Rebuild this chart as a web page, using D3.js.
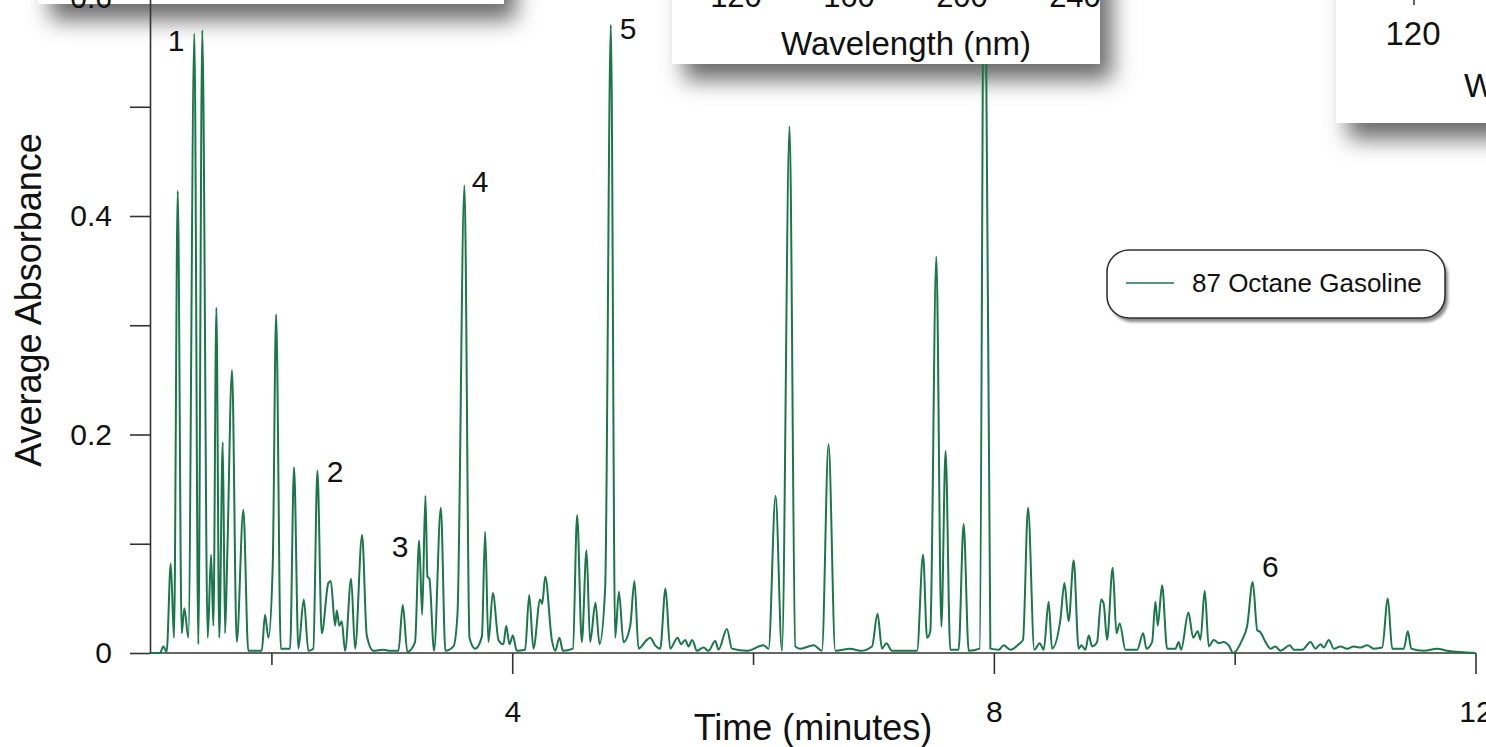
<!DOCTYPE html>
<html>
<head>
<meta charset="utf-8">
<script src="https://cdn.jsdelivr.net/npm/d3@7"></script>
<style>
body { margin: 0; background: #fff; }
svg { display: block; font-family: "Liberation Sans", Arial, sans-serif; }
</style>
</head>
<body>
<svg></svg>
<script>
var WIDTH = 1486;
var HEIGHT = 747;

// chromatogram: time (min) and average absorbance
var timeMin = [
	1.000, 1.075, 1.102, 1.130, 1.164, 1.191, 1.222, 1.255, 1.277, 1.310,
	1.360, 1.393, 1.426, 1.471, 1.499, 1.518, 1.543, 1.567, 1.596, 1.615,
	1.634, 1.673, 1.712, 1.767, 1.808, 1.920, 1.947, 1.975, 2.011, 2.039,
	2.078, 2.155, 2.188, 2.224, 2.269, 2.307, 2.348, 2.382, 2.418, 2.473,
	2.493, 2.529, 2.543, 2.564, 2.584, 2.612, 2.662, 2.695, 2.753, 2.792,
	2.847, 2.930, 2.986, 3.055, 3.091, 3.129, 3.193, 3.227, 3.252, 3.279,
	3.296, 3.312, 3.351, 3.407, 3.445, 3.512, 3.545, 3.603, 3.645, 3.692,
	3.748, 3.775, 3.802, 3.839, 3.886, 3.927, 3.950, 3.977, 4.005, 4.038,
	4.107, 4.141, 4.176, 4.232, 4.249, 4.274, 4.329, 4.357, 4.392, 4.421,
	4.504, 4.539, 4.578, 4.617, 4.647, 4.691, 4.725, 4.772, 4.819, 4.855,
	4.886, 4.924, 4.980, 5.015, 5.049, 5.118, 5.146, 5.187, 5.229, 5.273,
	5.312, 5.373, 5.403, 5.437, 5.464, 5.495, 5.534, 5.589, 5.630, 5.686,
	5.713, 5.783, 5.825, 5.949, 6.087, 6.129, 6.187, 6.240, 6.303, 6.351,
	6.392, 6.503, 6.572, 6.627, 6.683, 6.808, 6.891, 6.988, 7.034, 7.071,
	7.107, 7.154, 7.362, 7.412, 7.445, 7.472, 7.522, 7.564, 7.599, 7.638,
	7.707, 7.749, 7.791, 7.882, 7.923, 7.971, 8.040, 8.081, 8.137, 8.206,
	8.242, 8.284, 8.336, 8.380, 8.414, 8.455, 8.483, 8.552, 8.586, 8.621,
	8.663, 8.704, 8.727, 8.760, 8.788, 8.816, 8.857, 8.891, 8.912, 8.940,
	8.987, 9.018, 9.045, 9.093, 9.190, 9.240, 9.267, 9.314, 9.342, 9.361,
	9.397, 9.439, 9.508, 9.535, 9.555, 9.616, 9.655, 9.693, 9.716, 9.751,
	9.785, 9.826, 9.868, 9.909, 9.951, 9.987, 10.062, 10.104, 10.150, 10.187,
	10.214, 10.256, 10.297, 10.339, 10.380, 10.458, 10.491, 10.561, 10.630, 10.671,
	10.713, 10.740, 10.782, 10.823, 10.879, 10.934, 10.989, 11.045, 11.101, 11.155,
	11.225, 11.272, 11.308, 11.405, 11.438, 11.466, 11.571, 11.682, 11.765, 12.000
];
var absorbance = [
	0.000, 0.000, 0.006, 0.001, 0.082, 0.014, 0.423, 0.018, 0.041, 0.014,
	0.567, 0.008, 0.570, 0.014, 0.090, 0.025, 0.316, 0.014, 0.193, 0.018,
	0.092, 0.259, 0.010, 0.131, 0.002, 0.002, 0.035, 0.014, 0.080, 0.310,
	0.004, 0.004, 0.170, 0.004, 0.049, 0.002, 0.004, 0.167, 0.018, 0.064,
	0.066, 0.025, 0.039, 0.025, 0.029, 0.002, 0.068, 0.004, 0.108, 0.016,
	0.002, 0.003, 0.002, 0.002, 0.044, 0.001, 0.010, 0.103, 0.035, 0.144,
	0.070, 0.068, 0.002, 0.133, 0.002, 0.006, 0.035, 0.428, 0.014, 0.004,
	0.015, 0.111, 0.010, 0.055, 0.012, 0.008, 0.025, 0.008, 0.016, 0.002,
	0.003, 0.053, 0.004, 0.049, 0.045, 0.070, 0.012, 0.002, 0.014, 0.002,
	0.004, 0.126, 0.010, 0.094, 0.010, 0.046, 0.008, 0.060, 0.575, 0.014,
	0.056, 0.010, 0.025, 0.066, 0.004, 0.012, 0.014, 0.007, 0.004, 0.059,
	0.004, 0.014, 0.008, 0.012, 0.006, 0.012, 0.002, 0.005, 0.002, 0.011,
	0.003, 0.022, 0.004, 0.002, 0.007, 0.004, 0.144, 0.002, 0.482, 0.006,
	0.004, 0.007, 0.002, 0.191, 0.002, 0.004, 0.002, 0.006, 0.036, 0.004,
	0.009, 0.002, 0.002, 0.090, 0.014, 0.020, 0.363, 0.024, 0.185, 0.003,
	0.003, 0.118, 0.002, 0.004, 0.750, 0.004, 0.003, 0.007, 0.003, 0.008,
	0.012, 0.133, 0.003, 0.009, 0.003, 0.047, 0.004, 0.030, 0.064, 0.029,
	0.085, 0.004, 0.007, 0.003, 0.016, 0.006, 0.010, 0.049, 0.045, 0.012,
	0.078, 0.018, 0.027, 0.003, 0.003, 0.018, 0.004, 0.010, 0.047, 0.025,
	0.062, 0.004, 0.004, 0.010, 0.003, 0.037, 0.014, 0.020, 0.012, 0.057,
	0.006, 0.012, 0.009, 0.010, 0.007, 0.000, 0.012, 0.025, 0.065, 0.021,
	0.019, 0.010, 0.004, 0.006, 0.002, 0.007, 0.003, 0.003, 0.010, 0.004,
	0.008, 0.005, 0.012, 0.004, 0.006, 0.004, 0.006, 0.005, 0.007, 0.004,
	0.005, 0.050, 0.004, 0.004, 0.020, 0.004, 0.002, 0.004, 0.002, 0.000
];

var xTicksMajor = [4, 8, 12];
var xTicksMinor = [2, 6, 10];
var yTicks = [0, 0.1, 0.2, 0.3, 0.4, 0.5, 0.6];

// numbered peaks (label text, anchor time, anchor absorbance)
var peakNames = ['1', '2', '3', '4', '5', '6'];
var peakTimes = [1.208, 2.529, 3.069, 3.734, 4.963, 10.297];
var peakAbs = [0.561, 0.166, 0.098, 0.432, 0.572, 0.079];

var seriesName = '87 Octane Gasoline';

// bits of the overlapping wavelength panels
var insetTicks = ['120', '160', '200', '240'];
var insetTitle = 'Wavelength (nm)';

var LINE_COLOR = '#1a764b';
var AXIS_COLOR = '#333';

var svg = d3.select('svg')
	.attr('width', WIDTH)
	.attr('height', HEIGHT);

var x = d3.scaleLinear().domain([1, 12]).range([151, 1475.5]);
var y = d3.scaleLinear().domain([0, 0.6]).range([653, -2.5]);

var defs = svg.append('defs');
defs.append('filter')
	.attr('id', 'softShadow')
	.attr('x', '-50%').attr('y', '-50%')
	.attr('width', '200%').attr('height', '200%')
	.append('feGaussianBlur').attr('stdDeviation', 11);
defs.append('filter')
	.attr('id', 'legendShadow')
	.attr('x', '-10%').attr('y', '-30%')
	.attr('width', '120%').attr('height', '160%')
	.append('feGaussianBlur').attr('stdDeviation', 1.5);

// the panels laid over the top of the chart: [left, right, bottom]
var panels = [[38, 504, 4], [672, 1100, 64], [1336, 1560, 123]];

svg.append('g').selectAll('rect')
	.data(panels)
	.enter().append('rect')
	.attr('x', function(d){ return d[0] + 12; })
	.attr('y', -120 + 16)
	.attr('width', function(d){ return d[1] - d[0]; })
	.attr('height', function(d){ return d[2] + 120; })
	.attr('fill', '#6a6a6a')
	.attr('filter', 'url(#softShadow)');

// first panel sits under the plot
svg.append('rect')
	.attr('x', panels[0][0]).attr('y', -120)
	.attr('width', panels[0][1] - panels[0][0])
	.attr('height', panels[0][2] + 120)
	.attr('fill', '#fff');

// axes
var yAxis = d3.axisLeft(y)
	.tickValues(yTicks)
	.tickSize(20)
	.tickSizeOuter(0)
	.tickPadding(18)
	.tickFormat(function(d){
		var k = Math.round(d * 10);
		if (k % 2 !== 0) return '';
		return k === 0 ? '0' : d3.format('.1f')(d);
	});
var gy = svg.append('g')
	.attr('transform', 'translate(150,0)')
	.call(yAxis);

var xAxis = d3.axisBottom(x)
	.tickValues(xTicksMajor)
	.tickSize(21)
	.tickSizeOuter(0)
	.tickPadding(27)
	.tickFormat(d3.format('d'));
var gx = svg.append('g')
	.attr('transform', 'translate(0,653)')
	.call(xAxis);
gx.select('.domain').attr('d', 'M150,0H' + x(12));

var xMinor = d3.axisBottom(x)
	.tickValues(xTicksMinor)
	.tickSize(12)
	.tickFormat('');
var gxm = svg.append('g')
	.attr('transform', 'translate(0,653)')
	.call(xMinor);
gxm.select('.domain').remove();

svg.selectAll('.domain, .tick line')
	.attr('stroke', AXIS_COLOR)
	.attr('stroke-width', 1.6);
svg.selectAll('.tick text')
	.attr('font-size', 30)
	.attr('fill', '#111')
	.attr('font-family', '"Liberation Sans", Arial, sans-serif');

svg.append('text')
	.attr('transform', 'translate(41,300) rotate(-90)')
	.attr('text-anchor', 'middle')
	.attr('font-size', 36)
	.attr('fill', '#111')
	.text('Average Absorbance');

svg.append('text')
	.attr('x', 813).attr('y', 740)
	.attr('text-anchor', 'middle')
	.attr('font-size', 36)
	.attr('fill', '#111')
	.text('Time (minutes)');

// the trace
var points = timeMin.map(function(t, i){ return [t, absorbance[i]]; });
var line = d3.line()
	.x(function(d){ return x(d[0]); })
	.y(function(d){ return y(d[1]); })
	.curve(d3.curveMonotoneX);

svg.append('path')
	.datum(points)
	.attr('d', line)
	.attr('fill', 'none')
	.attr('stroke', LINE_COLOR)
	.attr('stroke-width', 2)
	.attr('stroke-linejoin', 'round');

// peak numbers
svg.append('g').selectAll('text')
	.data(peakNames)
	.enter().append('text')
	.attr('x', function(d, i){ return x(peakTimes[i]); })
	.attr('y', function(d, i){ return y(peakAbs[i]); })
	.attr('dy', '0.36em')
	.attr('text-anchor', 'middle')
	.attr('font-size', 30)
	.attr('fill', '#111')
	.text(function(d){ return d; });

// legend
var legend = svg.append('g').attr('transform', 'translate(1107,250)');
legend.append('rect')
	.attr('x', 3).attr('y', 4)
	.attr('width', 338).attr('height', 68)
	.attr('rx', 22)
	.attr('fill', '#888')
	.attr('filter', 'url(#legendShadow)');
legend.append('rect')
	.attr('width', 338).attr('height', 68)
	.attr('rx', 22)
	.attr('fill', '#fff')
	.attr('stroke', '#333')
	.attr('stroke-width', 1.6);
legend.append('line')
	.attr('x1', 19).attr('x2', 67)
	.attr('y1', 33).attr('y2', 33)
	.attr('stroke', LINE_COLOR)
	.attr('stroke-width', 1.6);
legend.append('text')
	.attr('x', 85).attr('y', 42)
	.attr('font-size', 26)
	.attr('fill', '#111')
	.text(seriesName);

// the other two panels cover the top of the plot
svg.append('g').selectAll('rect')
	.data(panels.slice(1))
	.enter().append('rect')
	.attr('x', function(d){ return d[0]; })
	.attr('y', -120)
	.attr('width', function(d){ return d[1] - d[0]; })
	.attr('height', function(d){ return d[2] + 120; })
	.attr('fill', '#fff');

var waveScale = d3.scaleLinear().domain([120, 240]).range([736, 1075]);
svg.append('g').selectAll('text')
	.data(insetTicks)
	.enter().append('text')
	.attr('x', function(d){ return waveScale(+d); })
	.attr('y', 7)
	.attr('text-anchor', 'middle')
	.attr('font-size', 31)
	.attr('fill', '#111')
	.text(function(d){ return d; });
svg.append('text')
	.attr('x', 906).attr('y', 55)
	.attr('text-anchor', 'middle')
	.attr('font-size', 33)
	.attr('fill', '#111')
	.text(insetTitle);

svg.append('line')
	.attr('x1', 1414).attr('x2', 1414)
	.attr('y1', 0).attr('y2', 5)
	.attr('stroke', AXIS_COLOR)
	.attr('stroke-width', 1.5);
svg.append('text')
	.attr('x', 1413).attr('y', 45)
	.attr('text-anchor', 'middle')
	.attr('font-size', 33)
	.attr('fill', '#111')
	.text(insetTicks[0]);
svg.append('text')
	.attr('x', 1464).attr('y', 97)
	.attr('font-size', 33)
	.attr('fill', '#111')
	.text(insetTitle);
</script>
</body>
</html>
